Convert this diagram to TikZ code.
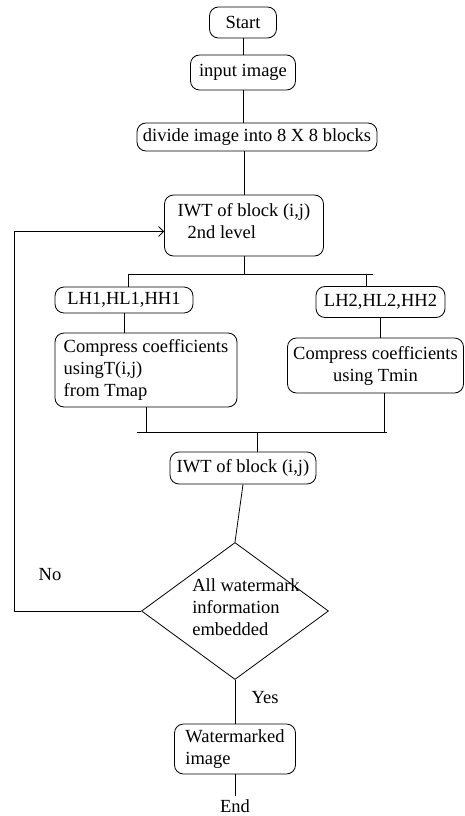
\documentclass[tikz,border=0pt]{standalone}
\usepackage{fontspec}
\setmainfont{Liberation Serif}
\usetikzlibrary{shapes.geometric,arrows.meta}
\newcommand\chartfont{\fontsize{18.5}{22}\selectfont}

\begin{document}
\begin{tikzpicture}[x=1pt, y=-1pt, line width=0.8pt,
  box/.style={draw, rounded corners=9pt, inner sep=0pt, align=center, font=\chartfont},
  decision/.style={draw, diamond, inner sep=0pt, minimum width=187pt, minimum height=137pt},
  every node/.style={font=\chartfont}
]
\useasboundingbox (0,0) rectangle (465,816);

\node[box, minimum width=67pt, minimum height=31pt] (start) at (243,22.5) {Start};
\node[box, minimum width=105pt, minimum height=35pt] (input) at (243,72.5) {input image};
\node[box, minimum width=240pt, minimum height=28pt] (divide) at (257,137) {divide image into 8 X 8 blocks};
\node[box, align=left, minimum width=159pt, minimum height=61pt] (iwt) at (244,225.5) {IWT of block (i,j)\\\hspace*{10pt}2nd level\\[-12pt]\mbox{}};

\coordinate (splitL) at (128,274);
\coordinate (splitR) at (373,274);
\coordinate (tapR) at (366,274);

\node[box, minimum width=138pt, minimum height=26pt] (lh1) at (124,300) {LH1,HL1,HH1};
\node[box, minimum width=129pt, minimum height=31pt] (lh2) at (380.5,302) {LH2,HL2,HH2};
\node[box, align=left, minimum width=182pt, minimum height=74pt] (comp1) at (146,370) {Compress coefficients\\usingT(i,j)\\from Tmap};
\node[box, minimum width=176pt, minimum height=55pt] (comp2) at (375.5,365.5) {Compress coefficients\\using Tmin};

\coordinate (joinL) at (137,432);
\coordinate (joinR) at (387,432);

\node[box, minimum width=146pt, minimum height=32pt] (iwt2) at (243,468) {IWT of block (i,j)};
\node[decision] (dec) at (235,611) {};
\node[align=left] (dectext) at (246,607) {All watermark\\information\\embedded};
\node[box, align=left, minimum width=121pt, minimum height=50pt] (wm) at (235,749) {Watermarked\\image};
\node (end) at (235,806) {End};

\node (no) at (50,575) {No};
\node (yes) at (265,698) {Yes};

\coordinate (loopc) at (14,611);

\draw (start) -- (input);
\draw (input.south) -- (input.south |- divide.north);
\draw (iwt.north |- divide.south) -- (iwt.north);
\draw (iwt.south) -- (iwt.south |- splitL);
\draw (splitL) -- (splitR);
\draw (splitL) -- (splitL |- lh1.north);
\draw (tapR) -- (tapR |- lh2.north);
\draw (lh1.south) -- (lh1.south |- comp1.north);
\draw (lh2.south) -- (lh2.south |- comp2.north);
\draw (comp1.south) -- (comp1.south |- joinL);
\draw ([xshift=9pt]comp2.south) -- ([xshift=9pt]comp2.south |- joinR);
\draw (joinL) -- (joinR);
\draw ([xshift=14pt]iwt2.north |- joinL) -- ([xshift=14pt]iwt2.north);
\draw (iwt2.south) -- (dec.north);
\draw (dec.south) -- (wm.north);
\draw (wm.south) -- (end.north);
\draw[-{Straight Barb[length=5pt,width=10pt]}] (dec.west) -- (loopc) |- ([yshift=-6pt]iwt.west);

\end{tikzpicture}
\end{document}
